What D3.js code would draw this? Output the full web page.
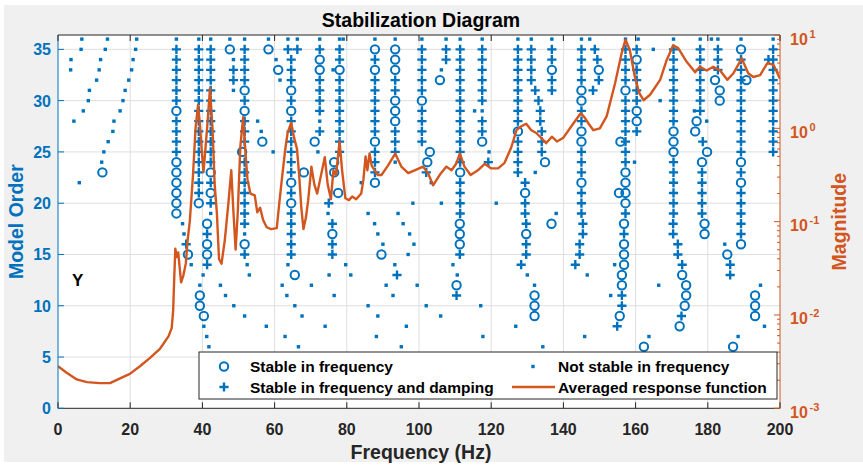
<!DOCTYPE html>
<html>
<head>
<meta charset="utf-8">
<script src="https://cdn.jsdelivr.net/npm/d3@7"></script>
<style>
  html, body { margin: 0; padding: 0; background: #ffffff; }
  svg { display: block; font-family: "Liberation Sans", Arial, Helvetica, sans-serif; }
</style>
</head>
<body>
<svg id="chart" width="863" height="465"></svg>
<script>
// ---- axis ticks ----
const freqTicks = [0, 20, 40, 60, 80, 100, 120, 140, 160, 180, 200];
const orderTicks = [0, 5, 10, 15, 20, 25, 30, 35];
const magTicks = [1e-3, 1e-2, 1e-1, 1e0, 1e1];
const magExponents = ["-3", "-2", "-1", "0", "1"];

// ---- identified poles ----
// [frequency (Hz), highest model order, markers going down one order per character]
// 'o' stable in frequency, '+' stable in frequency and damping, '.' not stable, '-' no pole
const poleColumns = [
  [6.6, 36, "."], [6.4, 35, "."], [3.6, 34, "."], [3.5, 33, "."], [4.4, 28, "."], [5.9, 22, "."],
  [8.7, 31, "."], [8.4, 30, "."], [7.0, 29, "."],
  [13.7, 36, "."], [13.1, 35, "."], [11.8, 34, "."], [11.4, 33, "."], [10.7, 32, "."],
  [15.5, 28, "."], [15.2, 27, "."], [13.9, 26, "."], [12.7, 25, "."], [12.1, 24, "."], [12.3, 23, "o"],
  [18.6, 31, "."], [18.0, 30, "."], [17.2, 29, "."],
  [21.8, 36, "."], [21.5, 35, "."], [20.8, 34, "."], [20.4, 33, "."], [19.6, 32, "."],
  [32.8, 36, ".++++++o++++oooooo"],
  [34.5, 18, "."], [34.9, 17, "."], [35.5, 16, "+"], [36.0, 15, "o"], [36.9, 14, "."],
  [39.0, 36, ".+++++++++++++++o"],
  [40.2, 13, "."], [39.3, 12, "."], [39.3, 11, "oo"], [40.4, 9, "o."], [41.2, 7, "."], [41.8, 6, "."],
  [42.3, 36, ".++++++++++++o+o+."],
  [41.3, 18, "o+oo+"],
  [47.6, 36, ".o"], [48.6, 34, ".++."],
  [51.7, 36, ".++++o+o+++-+++++++.o+"],
  [51.0, 25, "o"], [52.4, 14, "."], [53.0, 13, "."],
  [55.3, 28, "."], [56.3, 27, "."], [56.6, 26, "o"], [59.6, 25, "."],
  [58.3, 36, ".o"], [60.4, 34, "."], [61.0, 33, "o"], [61.5, 32, "."],
  [45.0, 12, "."], [46.4, 11, "."], [48.7, 10, "."], [51.7, 9, "."], [57.7, 8, "."],
  [63.7, 36, ".+"], [66.3, 36, ".+"],
  [64.6, 34, "+++o+o++++++o+o+++++"],
  [63.7, 14, "."], [65.6, 13, "o"], [62.1, 12, "."], [63.4, 11, "."], [65.6, 10, "."], [62.9, 7, "."], [66.6, 6, "."],
  [72.5, 36, ".+oo++++.+"], [71.1, 26, "o"], [72.0, 25, "."], [68.1, 23, "o"],
  [78.0, 36, ".++o++++++++"], [79.0, 36, "."], [76.2, 33, "."],
  [76.5, 24, "oo"], [77.6, 21, "o"], [75.0, 20, "+"], [74.8, 19, "."],
  [76.0, 18, "+o++"],
  [70.2, 12, "."], [67.6, 9, "."], [74.0, 8, "."], [75.1, 13, "."], [76.5, 11, "."],
  [79.7, 14, "."], [81.1, 13, "."], [84.0, 22, "."], [85.9, 19, "."],
  [87.8, 36, ".o+o++++++o+++o"],
  [87.7, 18, "."], [88.6, 17, "."], [90.0, 16, "."], [89.6, 15, "o"], [93.3, 14, "."], [93.9, 13, "+"],
  [90.9, 12, "."], [92.8, 11, "."], [85.9, 10, "."], [88.6, 9, "."], [96.5, 8, "."], [88.2, 7, "."], [95.1, 6, "."],
  [95.6, 18, "."], [97.4, 17, "."], [98.6, 16, "."], [97.0, 15, "."], [99.5, 12, "."], [102.0, 10, "."], [106.0, 9, "."],
  [94.2, 19, "."], [98.3, 20, "."], [106.2, 20, "."], [106.2, 33, "."], [103.4, 22, "."],
  [93.4, 36, ".ooo++ooo+++."],
  [100.8, 36, ".+++++o++++"], [103.0, 25, "o"], [102.3, 24, "o"], [102.0, 23, "+"],
  [105.8, 32, "o"], [107.5, 36, ".++"],
  [111.4, 36, ".++++++++++++o++++"],
  [111.3, 18, "ooo+"], [109.4, 14, "."], [110.6, 13, "."], [110.4, 12, "o+"],
  [117.1, 10, "."], [117.7, 7, "."], [126.8, 8, "."],
  [117.5, 36, ".++++++.++o"], [119.4, 25, "."], [119.2, 24, "+"], [121.4, 20, "."], [115.4, 29, "."],
  [127.4, 36, ".++++++++o++++"], [129.4, 22, "+o++"], [129.7, 18, "+o++"], [128.3, 14, "+"], [130.0, 13, "."],
  [132.0, 12, ".ooo"], [134.3, 6, "."],
  [131.1, 36, ".++++"], [132.2, 31, "+"], [133.1, 30, "+"], [133.6, 29, "++"], [134.0, 27, "+++"], [134.9, 24, "o"], [132.2, 23, "."],
  [136.8, 36, ".++o++"], [138.0, 19, "."], [136.7, 18, "o"],
  [145.0, 36, ".++++oo++oo+++o+++"], [145.4, 18, "++"], [144.5, 16, "++"], [143.3, 14, "+"],
  [146.6, 13, "."], [145.9, 7, "."], [147.3, 36, "."],
  [148.7, 35, "+"], [149.4, 34, "+"], [149.8, 33, "o+"], [148.2, 31, "+"],
  [157.2, 36, ".++++o+++++++oooo+"], [155.8, 26, "o"], [155.4, 21, "o"],
  [156.8, 18, "o+ooo"], [156.2, 13, "oo++"], [155.6, 9, "o"], [154.9, 8, "+"], [154.2, 14, "."], [153.1, 11, "."],
  [160.7, 36, "."], [160.3, 35, "+o++++oo+"], [159.7, 24, "."], [164.9, 35, "."], [166.8, 30, "."],
  [162.3, 6, "o"], [163.7, 7, "."], [166.4, 12, "."],
  [170.5, 36, ".++++++++ooo++++++"], [170.4, 18, "++"], [171.7, 16, "++"], [172.9, 14, "+o"],
  [174.0, 12, "oo"], [173.6, 10, "o"], [172.7, 9, "+"], [172.2, 8, "o"],
  [177.9, 36, ".+++++++"], [176.3, 29, "."], [176.9, 28, "o"], [179.7, 28, "."], [176.5, 27, "o"],
  [178.6, 26, "+"], [179.8, 25, "o"], [178.4, 24, "o+++++"], [179.1, 18, "oo"],
  [181.0, 36, "."], [182.8, 36, ".+++"], [182.0, 32, "o"], [183.3, 31, "oo"],
  [189.2, 36, ".o++++++++++o+o+++++o"], [190.7, 32, "o"],
  [184.7, 16, "."], [185.4, 15, "o"], [186.2, 14, "++"], [188.4, 7, "."], [187.0, 6, "o"],
  [198.1, 36, ".+++++++++++"], [196.8, 34, "+"],
  [194.6, 12, "."], [193.1, 11, "ooo"], [195.7, 8, "."]
];

// ---- averaged response function ----
const respFreq = [
  0, 2.4, 5.2, 8, 11.6, 14.4, 17.2, 19.9, 22.7, 25.5, 28.3, 30.6, 31.5, 31.9, 32.2, 32.5,
  32.9, 33.3, 34.1, 34.7, 35.4, 35.9, 36.5, 37.4, 38.1, 38.8, 39.3, 39.8, 40.3, 41.3, 42.1,
  42.8, 43.4, 44.0, 44.6, 45.3, 46.2, 47.2, 48.0, 48.6, 49.2, 49.8, 50.5, 51.3, 52.0, 52.5,
  53.3, 54.5, 55.2, 56.0, 56.8, 57.8, 59.0, 60.6, 61.3, 62.0, 62.9, 63.6, 64.6, 65.4, 66.2,
  66.8, 67.4, 68.0, 68.7, 69.3, 70.2, 71.0, 71.8, 72.6, 73.9, 74.7, 75.6, 76.3, 77.0, 78.0,
  78.7, 79.6, 80.6, 81.5, 82.6, 84.0, 84.6, 85.2, 85.7, 86.3, 86.9, 87.7, 88.6, 89.6, 91.4,
  93.4, 95.1, 97.0, 98.8, 101.1, 102.5, 103.9, 105.7, 107.6, 109.0, 110.3, 111.3, 112.6, 114.3,
  116.3, 118.2, 120.0, 121.9, 123.7, 125.6, 127.0, 128.3, 129.7, 131.1, 132.5, 133.5, 134.3,
  135.2, 136.8, 138.2, 140.0, 142.7, 144.8, 145.8, 147.0, 148.3, 150.1, 152.0, 154.3, 156.1,
  157.2, 158.4, 159.8, 161.0, 162.2, 164.0, 166.8, 168.6, 170.4, 171.8, 174.2, 176.5, 177.8,
  179.7, 181.5, 183.4, 185.4, 187.1, 189.4, 191.2, 192.6, 194.5, 196.5, 198.2, 200
];
const respMag = [
  0.00282, 0.00240, 0.00204, 0.00191, 0.00186, 0.00186, 0.00209, 0.00234, 0.00282, 0.00347, 0.00437, 0.00589, 0.00724, 0.0112, 0.0251, 0.0513,
  0.0417, 0.0468, 0.0224, 0.0263, 0.0355, 0.0631, 0.100, 0.316, 1.00, 1.78, 1.12, 0.589, 0.339, 1.00, 2.69,
  1.00, 0.251, 0.126, 0.0398, 0.0355, 0.0631, 0.158, 0.355, 0.126, 0.0501, 0.126, 0.631, 1.32, 0.501, 0.282,
  0.200, 0.191, 0.126, 0.141, 0.105, 0.0871, 0.0832, 0.0851, 0.158, 0.282, 0.575, 0.891, 1.15, 0.794, 0.603,
  0.316, 0.141, 0.0832, 0.112, 0.170, 0.389, 0.251, 0.200, 0.282, 0.490, 0.251, 0.174, 0.355, 0.316, 0.724,
  0.355, 0.178, 0.170, 0.186, 0.174, 0.200, 0.282, 0.501, 0.355, 0.537, 0.398, 0.355, 0.316, 0.316, 0.398,
  0.537, 0.389, 0.331, 0.355, 0.389, 0.331, 0.245, 0.316, 0.389, 0.355, 0.417, 0.537, 0.389, 0.316,
  0.355, 0.417, 0.372, 0.372, 0.427, 0.631, 0.955, 1.05, 1.12, 0.955, 0.891, 0.813, 0.759,
  0.692, 0.813, 0.724, 0.794, 1.12, 1.45, 1.32, 1.12, 0.955, 1.00, 1.35, 3.02, 6.31,
  8.91, 6.92, 3.55, 2.40, 2.00, 2.29, 3.31, 5.37, 7.76, 7.24, 5.13, 3.98, 4.57,
  4.17, 4.57, 4.17, 3.31, 3.89, 5.62, 3.89, 3.55, 3.72, 5.01, 4.79, 3.39
];

const legendLabels = [
  "Stable in frequency",
  "Stable in frequency and damping",
  "Not stable in frequency",
  "Averaged response function"
];

// ---- layout ----
const W = 863, H = 465;
const plot = { left: 58, right: 780, top: 35, bottom: 408.3 };
const BLUE = "#0072BD", ORANGE = "#D2561E", DARK = "#262626";
const CIRCLE_R = 4.2, PLUS_HALF = 4.6, DOT = 3.4;

const x = d3.scaleLinear().domain([0, 200]).range([plot.left, plot.right]);
const yOrder = d3.scaleLinear().domain([0, 36.4]).range([plot.bottom, plot.top]);
const yMag = d3.scaleLog().domain([1e-3, 1e1]).range([plot.bottom, plot.top]);

// split the columns into the three pole categories
const stableFreq = [], stableDamp = [], unstable = [];
poleColumns.forEach(([f, top, marks]) => {
  [...marks].forEach((c, i) => {
    const p = [f, top - i];
    if (c === "o") stableFreq.push(p);
    else if (c === "+") stableDamp.push(p);
    else if (c === ".") unstable.push(p);
  });
});

const plusPath = (cx, cy) =>
  `M${cx - PLUS_HALF},${cy}H${cx + PLUS_HALF}M${cx},${cy - PLUS_HALF}V${cy + PLUS_HALF}`;

const svg = d3.select("#chart");

// figure background
svg.append("rect").attr("x", 4).attr("y", 5).attr("width", W - 4).attr("height", 457).attr("fill", "#f0f0f0");
svg.append("rect")
  .attr("x", plot.left).attr("y", plot.top)
  .attr("width", plot.right - plot.left).attr("height", plot.bottom - plot.top)
  .attr("fill", "#ffffff");

svg.append("clipPath").attr("id", "plotClip").append("rect")
  .attr("x", plot.left).attr("y", plot.top)
  .attr("width", plot.right - plot.left).attr("height", plot.bottom - plot.top);

// grid
const grid = svg.append("g").attr("stroke", "#dfdfdf").attr("stroke-width", 1);
freqTicks.slice(1, -1).forEach(t => {
  grid.append("line").attr("x1", x(t)).attr("x2", x(t)).attr("y1", plot.top).attr("y2", plot.bottom);
});
orderTicks.slice(1).forEach(t => {
  grid.append("line").attr("x1", plot.left).attr("x2", plot.right).attr("y1", yOrder(t)).attr("y2", yOrder(t));
});

// poles
const marks = svg.append("g").attr("clip-path", "url(#plotClip)");
marks.append("g").attr("fill", BLUE).selectAll("rect").data(unstable).join("rect")
  .attr("x", d => x(d[0]) - DOT / 2).attr("y", d => yOrder(d[1]) - DOT / 2)
  .attr("width", DOT).attr("height", DOT);
marks.append("g").attr("fill", "none").attr("stroke", BLUE).attr("stroke-width", 2)
  .selectAll("circle").data(stableFreq).join("circle")
  .attr("cx", d => x(d[0])).attr("cy", d => yOrder(d[1])).attr("r", CIRCLE_R);
marks.append("g").attr("fill", "none").attr("stroke", BLUE).attr("stroke-width", 2.4)
  .selectAll("path").data(stableDamp).join("path")
  .attr("d", d => plusPath(x(d[0]), yOrder(d[1])));

// averaged response function on the log axis
const resp = respFreq.map((f, i) => [f, respMag[i]]);
svg.append("path").datum(resp)
  .attr("clip-path", "url(#plotClip)")
  .attr("fill", "none").attr("stroke", ORANGE).attr("stroke-width", 2.4)
  .attr("stroke-linejoin", "round")
  .attr("d", d3.line().x(d => x(d[0])).y(d => yMag(d[1])));

// axes frame
const axes = svg.append("g");
axes.append("line").attr("x1", plot.left).attr("x2", plot.right).attr("y1", plot.top).attr("y2", plot.top)
  .attr("stroke", DARK).attr("stroke-width", 1);
axes.append("line").attr("x1", plot.left).attr("x2", plot.right).attr("y1", plot.bottom).attr("y2", plot.bottom)
  .attr("stroke", DARK).attr("stroke-width", 1);
axes.append("line").attr("x1", plot.left).attr("x2", plot.left).attr("y1", plot.top).attr("y2", plot.bottom)
  .attr("stroke", BLUE).attr("stroke-width", 1);
axes.append("line").attr("x1", plot.right).attr("x2", plot.right).attr("y1", plot.top).attr("y2", plot.bottom)
  .attr("stroke", ORANGE).attr("stroke-width", 1);

// x ticks (bottom and top, pointing inward)
freqTicks.forEach(t => {
  axes.append("line").attr("x1", x(t)).attr("x2", x(t)).attr("y1", plot.bottom).attr("y2", plot.bottom - 6)
    .attr("stroke", DARK);
  axes.append("line").attr("x1", x(t)).attr("x2", x(t)).attr("y1", plot.top).attr("y2", plot.top + 6)
    .attr("stroke", DARK);
  axes.append("text").attr("x", x(t)).attr("y", 435).attr("text-anchor", "middle")
    .attr("font-size", 16).attr("font-weight", "bold").attr("fill", DARK).text(t);
});

// left ticks
orderTicks.forEach(t => {
  axes.append("line").attr("x1", plot.left).attr("x2", plot.left + 6).attr("y1", yOrder(t)).attr("y2", yOrder(t))
    .attr("stroke", BLUE);
  axes.append("text").attr("x", 51).attr("y", yOrder(t) + 6).attr("text-anchor", "end")
    .attr("font-size", 16).attr("font-weight", "bold").attr("fill", BLUE).text(t);
});

// right log ticks with minor ticks
magTicks.forEach((t, i) => {
  const yy = yMag(t);
  axes.append("line").attr("x1", plot.right).attr("x2", plot.right - 6).attr("y1", yy).attr("y2", yy)
    .attr("stroke", ORANGE);
  axes.append("text").attr("x", 790).attr("y", yy + 9.5)
    .attr("font-size", 16).attr("font-weight", "bold").attr("fill", ORANGE).text("10");
  axes.append("text").attr("x", 809.5).attr("y", yy + 2.5)
    .attr("font-size", 11).attr("font-weight", "bold").attr("fill", ORANGE).text(magExponents[i]);
  if (i < magTicks.length - 1) {
    for (let k = 2; k <= 9; k++) {
      const ym = yMag(t * k);
      axes.append("line").attr("x1", plot.right).attr("x2", plot.right - 3).attr("y1", ym).attr("y2", ym)
        .attr("stroke", ORANGE);
    }
  }
});

// titles and labels
svg.append("text").attr("x", 421).attr("y", 26.5).attr("text-anchor", "middle")
  .attr("font-size", 19.5).attr("font-weight", "bold").attr("fill", "#000").text("Stabilization Diagram");
svg.append("text").attr("x", 421).attr("y", 459).attr("text-anchor", "middle")
  .attr("font-size", 19.5).attr("font-weight", "bold").attr("fill", DARK).text("Frequency (Hz)");
svg.append("text").attr("transform", `translate(22.5,${(plot.top + plot.bottom) / 2}) rotate(-90)`)
  .attr("text-anchor", "middle").attr("font-size", 19.5).attr("font-weight", "bold").attr("fill", BLUE)
  .text("Model Order");
svg.append("text").attr("transform", `translate(846,${(plot.top + plot.bottom) / 2}) rotate(-90)`)
  .attr("text-anchor", "middle").attr("font-size", 19.5).attr("font-weight", "bold").attr("fill", ORANGE)
  .text("Magnitude");
svg.append("text").attr("x", 72).attr("y", 286).attr("font-size", 17).attr("font-weight", "bold")
  .attr("fill", "#000").text("Y");

// legend
const lg = svg.append("g");
lg.append("rect").attr("x", 199).attr("y", 352).attr("width", 578).attr("height", 47)
  .attr("fill", "#ffffff").attr("stroke", DARK).attr("stroke-width", 1);
const row1 = 366.5, row2 = 387;
lg.append("circle").attr("cx", 224).attr("cy", row1).attr("r", CIRCLE_R)
  .attr("fill", "none").attr("stroke", BLUE).attr("stroke-width", 2);
lg.append("path").attr("d", plusPath(224, row2))
  .attr("stroke", BLUE).attr("stroke-width", 2.4);
lg.append("rect").attr("x", 533 - DOT / 2).attr("y", row1 - DOT / 2).attr("width", DOT).attr("height", DOT).attr("fill", BLUE);
lg.append("line").attr("x1", 512).attr("x2", 555).attr("y1", row2).attr("y2", row2)
  .attr("stroke", ORANGE).attr("stroke-width", 2.4);
[[250, row1, 0], [250, row2, 1], [558, row1, 2], [558, row2, 3]].forEach(([lx, ly, i]) => {
  lg.append("text").attr("x", lx).attr("y", ly + 5.5).attr("font-size", 15.5).attr("font-weight", "bold")
    .attr("fill", "#000").text(legendLabels[i]);
});
</script>
</body>
</html>
